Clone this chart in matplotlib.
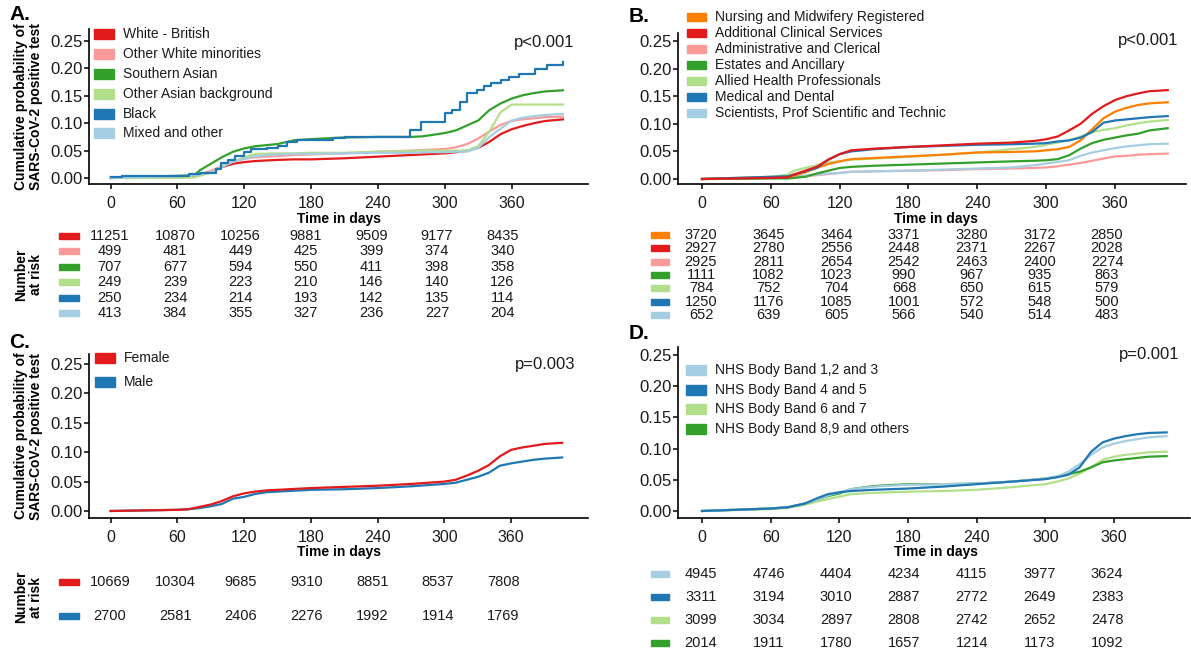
import matplotlib
matplotlib.use('Agg')
import matplotlib.pyplot as plt
from matplotlib.patches import Rectangle

plt.rcParams['font.family'] = ['Liberation Sans', 'DejaVu Sans']

# ---- colours (ColorBrewer "Paired") ----
LBLUE, BLUE, LGREEN, GREEN, PINK, RED, ORANGE = (
    '#A6CEE3', '#1F78B4', '#B2DF8A', '#33A02C', '#FB9A99', '#E31A1C', '#FF7F00')

x_ticks = [0, 60, 120, 180, 240, 300, 360]
y_ticks = [0.00, 0.05, 0.10, 0.15, 0.20, 0.25]
risk_times = [0, 60, 120, 180, 240, 300, 360]

# ---- A. ethnicity ----
A_labels = ['White - British', 'Other White minorities', 'Southern Asian',
            'Other Asian background', 'Black', 'Mixed and other']
A_colors = [RED, PINK, GREEN, LGREEN, BLUE, LBLUE]
A_t = [0, 60, 75, 80, 90, 100, 110, 120, 130, 150, 165, 180, 210, 240, 270, 280,
       300, 310, 320, 330, 340, 350, 360, 370, 380, 390, 406]
A_white_british = [0.000, 0.002, 0.003, 0.006, 0.012, 0.020, 0.026, 0.029, 0.031, 0.033, 0.034, 0.034, 0.036, 0.039,
                   0.042, 0.043, 0.045, 0.047, 0.050, 0.055, 0.066, 0.080, 0.089, 0.095, 0.100, 0.104, 0.107]
A_other_white = [0.000, 0.002, 0.003, 0.006, 0.013, 0.022, 0.030, 0.035, 0.038, 0.040, 0.042, 0.043, 0.045, 0.048,
                 0.050, 0.051, 0.053, 0.056, 0.062, 0.072, 0.085, 0.097, 0.104, 0.107, 0.109, 0.111, 0.112]
A_south_asian = [0.000, 0.004, 0.005, 0.014, 0.026, 0.038, 0.048, 0.054, 0.058, 0.062, 0.069, 0.071, 0.074, 0.075,
                 0.075, 0.076, 0.082, 0.087, 0.096, 0.105, 0.124, 0.136, 0.145, 0.151, 0.155, 0.158, 0.160]
A_other_asian = [0.000, 0.000, 0.001, 0.004, 0.010, 0.022, 0.030, 0.038, 0.044, 0.045, 0.045, 0.046, 0.046, 0.048,
                 0.049, 0.050, 0.050, 0.050, 0.050, 0.058, 0.085, 0.120, 0.134, 0.134, 0.134, 0.134, 0.134]
A_mixed = [0.000, 0.003, 0.005, 0.007, 0.010, 0.020, 0.030, 0.035, 0.040, 0.043, 0.044, 0.044, 0.045, 0.046,
           0.046, 0.047, 0.047, 0.048, 0.048, 0.055, 0.075, 0.090, 0.105, 0.110, 0.113, 0.115, 0.117]
A_black_t = [0, 10, 70, 80, 95, 99, 105, 112, 120, 126, 140, 150, 158, 167, 200, 210, 269, 279, 300, 306, 314,
             320, 329, 335, 341, 350, 358, 367, 381, 392, 406]
A_black = [0.002, 0.003, 0.007, 0.010, 0.017, 0.027, 0.033, 0.040, 0.048, 0.053, 0.055, 0.058, 0.065, 0.070, 0.073,
           0.075, 0.088, 0.103, 0.118, 0.124, 0.139, 0.155, 0.161, 0.167, 0.173, 0.179, 0.185, 0.190, 0.199, 0.207,
           0.212]
A_risk = [[11251, 10870, 10256, 9881, 9509, 9177, 8435],
          [499, 481, 449, 425, 399, 374, 340],
          [707, 677, 594, 550, 411, 398, 358],
          [249, 239, 223, 210, 146, 140, 126],
          [250, 234, 214, 193, 142, 135, 114],
          [413, 384, 355, 327, 236, 227, 204]]

# ---- B. staff group ----
B_labels = ['Nursing and Midwifery Registered', 'Additional Clinical Services', 'Administrative and Clerical',
            'Estates and Ancillary', 'Allied Health Professionals', 'Medical and Dental',
            'Scientists, Prof Scientific and Technic']
B_colors = [ORANGE, RED, PINK, GREEN, LGREEN, BLUE, LBLUE]
B_t = [0, 60, 75, 80, 90, 100, 110, 120, 130, 150, 180, 210, 240, 270, 290, 300, 310, 320, 330, 340,
       350, 360, 370, 380, 390, 406]
B_nursing = [0.000, 0.003, 0.004, 0.006, 0.012, 0.020, 0.027, 0.032, 0.036, 0.038, 0.041, 0.044, 0.048, 0.049, 0.050,
             0.052, 0.054, 0.058, 0.070, 0.090, 0.110, 0.122, 0.129, 0.134, 0.137, 0.139]
B_additional = [0.000, 0.002, 0.003, 0.008, 0.015, 0.022, 0.035, 0.045, 0.052, 0.055, 0.058, 0.061, 0.064, 0.066,
                0.069, 0.072, 0.077, 0.088, 0.100, 0.118, 0.132, 0.143, 0.150, 0.155, 0.159, 0.161]
B_admin = [0.000, 0.002, 0.003, 0.004, 0.005, 0.007, 0.009, 0.011, 0.013, 0.014, 0.015, 0.016, 0.018, 0.019, 0.020,
           0.021, 0.023, 0.026, 0.029, 0.033, 0.037, 0.041, 0.042, 0.044, 0.045, 0.046]
B_estates = [0.000, 0.001, 0.001, 0.002, 0.004, 0.010, 0.015, 0.020, 0.022, 0.024, 0.026, 0.028, 0.030, 0.032, 0.033,
             0.034, 0.036, 0.043, 0.055, 0.065, 0.071, 0.075, 0.079, 0.082, 0.088, 0.092]
B_allied = [0.000, 0.004, 0.008, 0.015, 0.020, 0.025, 0.030, 0.032, 0.035, 0.037, 0.040, 0.044, 0.048, 0.054, 0.058,
            0.062, 0.066, 0.070, 0.077, 0.085, 0.089, 0.092, 0.097, 0.101, 0.104, 0.107]
B_medical = [0.000, 0.004, 0.005, 0.008, 0.014, 0.020, 0.035, 0.045, 0.050, 0.054, 0.058, 0.060, 0.062, 0.063, 0.064,
             0.065, 0.068, 0.070, 0.075, 0.085, 0.102, 0.106, 0.108, 0.110, 0.112, 0.114]
B_scientists = [0.000, 0.002, 0.003, 0.004, 0.006, 0.008, 0.010, 0.011, 0.013, 0.014, 0.015, 0.017, 0.019, 0.021,
                0.025, 0.028, 0.031, 0.034, 0.042, 0.048, 0.052, 0.056, 0.059, 0.061, 0.063, 0.064]
B_risk = [[3720, 3645, 3464, 3371, 3280, 3172, 2850],
          [2927, 2780, 2556, 2448, 2371, 2267, 2028],
          [2925, 2811, 2654, 2542, 2463, 2400, 2274],
          [1111, 1082, 1023, 990, 967, 935, 863],
          [784, 752, 704, 668, 650, 615, 579],
          [1250, 1176, 1085, 1001, 572, 548, 500],
          [652, 639, 605, 566, 540, 514, 483]]

# ---- C. sex ----
C_labels = ['Female', 'Male']
C_colors = [RED, BLUE]
C_t = [0, 60, 70, 80, 90, 100, 110, 120, 130, 140, 160, 180, 210, 240, 270, 300, 310, 320, 330, 340,
       350, 360, 370, 380, 390, 406]
C_female = [0.000, 0.002, 0.003, 0.007, 0.011, 0.017, 0.025, 0.030, 0.033, 0.035, 0.037, 0.039, 0.041, 0.043, 0.046,
            0.050, 0.053, 0.060, 0.068, 0.078, 0.093, 0.104, 0.108, 0.111, 0.114, 0.116]
C_male = [0.000, 0.002, 0.003, 0.005, 0.008, 0.012, 0.021, 0.024, 0.029, 0.032, 0.034, 0.036, 0.037, 0.039, 0.042,
          0.046, 0.048, 0.053, 0.058, 0.065, 0.077, 0.081, 0.084, 0.087, 0.089, 0.091]
C_risk = [[10669, 10304, 9685, 9310, 8851, 8537, 7808],
          [2700, 2581, 2406, 2276, 1992, 1914, 1769]]

# ---- D. pay band ----
D_labels = ['NHS Body Band 1,2 and 3', 'NHS Body Band 4 and 5', 'NHS Body Band 6 and 7',
            'NHS Body Band 8,9 and others']
D_colors = [LBLUE, BLUE, LGREEN, GREEN]
D_t = [0, 60, 75, 90, 100, 110, 120, 130, 150, 180, 210, 240, 270, 300, 310, 320, 330, 340, 350, 360,
       370, 380, 390, 406]
D_band123 = [0.000, 0.004, 0.006, 0.012, 0.018, 0.025, 0.030, 0.035, 0.039, 0.042, 0.043, 0.044, 0.047, 0.052, 0.055,
             0.063, 0.075, 0.090, 0.102, 0.108, 0.112, 0.115, 0.118, 0.120]
D_band45 = [0.000, 0.004, 0.006, 0.012, 0.020, 0.027, 0.030, 0.032, 0.034, 0.036, 0.039, 0.043, 0.047, 0.051, 0.054,
            0.058, 0.070, 0.095, 0.110, 0.116, 0.120, 0.123, 0.125, 0.126]
D_band67 = [0.000, 0.003, 0.005, 0.010, 0.015, 0.019, 0.023, 0.027, 0.029, 0.031, 0.032, 0.034, 0.038, 0.043, 0.047,
            0.052, 0.060, 0.070, 0.082, 0.087, 0.090, 0.092, 0.094, 0.095]
D_band89 = [0.000, 0.004, 0.006, 0.012, 0.018, 0.024, 0.028, 0.035, 0.040, 0.043, 0.043, 0.044, 0.047, 0.052, 0.055,
            0.059, 0.063, 0.070, 0.078, 0.081, 0.083, 0.085, 0.087, 0.088]
D_risk = [[4945, 4746, 4404, 4234, 4115, 3977, 3624],
          [3311, 3194, 3010, 2887, 2772, 2649, 2383],
          [3099, 3034, 2897, 2808, 2742, 2652, 2478],
          [2014, 1911, 1780, 1657, 1214, 1173, 1092]]

W, H = 1191, 655
fig = plt.figure(figsize=(W / 100, H / 100), dpi=100)
TXT = '#1a1a1a'


def fx(x):
    return x / W


def fy(y):
    return 1 - y / H


def km_axes(box, xpix, ypix):
    # box = left, top, right, bottom in pixels; xpix = pixel of day 0 / day 360; ypix = pixel of 0 / 0.25
    l, t, r, b = box
    ax = fig.add_axes([fx(l), fy(b), (r - l) / W, (b - t) / H])
    s = (xpix[1] - xpix[0]) / 360
    ax.set_xlim((l - xpix[0]) / s, (r - xpix[0]) / s)
    k = (ypix[0] - ypix[1]) / 0.25
    ax.set_ylim((ypix[0] - b) / k, (ypix[0] - t) / k)
    ax.set_xticks(x_ticks)
    ax.set_yticks(y_ticks)
    ax.set_yticklabels([f'{v:.2f}' for v in y_ticks])
    for side in ['top', 'right']:
        ax.spines[side].set_visible(False)
    for side in ['left', 'bottom']:
        ax.spines[side].set_linewidth(1.2)
    ax.tick_params(axis='both', length=3.5, width=1.1, labelcolor=TXT)
    ax.tick_params(axis='y', pad=1, labelsize=12)
    ax.tick_params(axis='x', pad=5, labelsize=11.5)
    ax.patch.set_alpha(0)
    return ax


def risk_table(xpix, row0, step, counts, colors, patch_x, patch_h=6):
    n = len(counts)
    t = row0 - step / 2
    b = row0 + step * (n - 0.5)
    l, r = xpix[0] - 30, xpix[1] + 30
    ax = fig.add_axes([fx(l), fy(b), (r - l) / W, (b - t) / H])
    s = (xpix[1] - xpix[0]) / 360
    ax.set_xlim((l - xpix[0]) / s, (r - xpix[0]) / s)
    ax.set_ylim(n - 0.5, -0.5)
    ax.axis('off')
    h = patch_h / step
    for i, (row, c) in enumerate(zip(counts, colors)):
        for tt, v in zip(risk_times, row):
            ax.text(tt, i, str(v), ha='center', va='center', fontsize=10.5, color=TXT)
        ax.add_patch(Rectangle(((patch_x[0] - xpix[0]) / s, i - h / 2), (patch_x[1] - patch_x[0]) / s, h,
                               color=c, clip_on=False))
    return ax


def legend(labels, colors, patch_x, text_x, rows, ph, fs=10):
    for lab, c, y in zip(labels, colors, rows):
        fig.add_artist(Rectangle((fx(patch_x[0]), fy(y + ph / 2)), (patch_x[1] - patch_x[0]) / W, ph / H,
                                 transform=fig.transFigure, color=c))
        fig.text(fx(text_x), fy(y), lab, va='center', ha='left', fontsize=fs, color=TXT)


def titles(cx, cy, letter, lx, ly, pval, px, py):
    fig.text(fx(cx), fy(cy), 'Time in days', ha='center', va='center', fontsize=10, fontweight='bold')
    fig.text(fx(lx), fy(ly), letter, ha='left', va='center', fontsize=15, fontweight='bold')
    fig.text(fx(px), fy(py), pval, ha='right', va='center', fontsize=12, color=TXT)


LW = 1.6

# Panel A
axA = km_axes((88.8, 29, 587.5, 184), (110.6, 511.7), (178, 41))
for vals, c in [(A_white_british, RED), (A_other_white, PINK), (A_south_asian, GREEN),
                (A_other_asian, LGREEN), (A_mixed, LBLUE)]:
    axA.plot(A_t, vals, color=c, lw=LW)
axA.plot(A_black_t, A_black, color=BLUE, lw=LW, drawstyle='steps-post')
legend(A_labels, A_colors, (94, 114), 123, [34, 54, 74, 94, 114, 133], 10)
titles(339, 219, 'A.', 9, 15, 'p<0.001', 574, 42)
risk_table((109.5, 502.5), 236, 15.4, A_risk, A_colors, (59, 78.5))

# Panel B
axB = km_axes((678, 33, 1186, 184), (702, 1115), (179, 41))
for vals, c in [(B_admin, PINK), (B_scientists, LBLUE), (B_estates, GREEN), (B_allied, LGREEN),
                (B_nursing, ORANGE), (B_medical, BLUE), (B_additional, RED)]:
    axB.plot(B_t, vals, color=c, lw=LW)
legend(B_labels, B_colors, (687, 706), 715, [17, 33, 49, 65, 81, 97, 113], 8)
titles(936, 219, 'B.', 629, 17, 'p<0.001', 1178, 41)
risk_table((701, 1107), 235, 13.33, B_risk, B_colors, (651, 669))

# Panel C
axC = km_axes((88.8, 354, 588, 518), (110.6, 511), (511, 364))
axC.plot(C_t, C_male, color=BLUE, lw=LW)
axC.plot(C_t, C_female, color=RED, lw=LW)
legend(C_labels, C_colors, (95, 115), 124, [358, 382], 10)
titles(339, 552, 'C.', 9, 343, 'p=0.003', 575, 365)
risk_table((109.8, 503.3), 582, 34, C_risk, C_colors, (59, 78.5))

# Panel D
axD = km_axes((678, 347, 1190, 518), (702, 1114), (511, 355))
for vals, c in [(D_band67, LGREEN), (D_band89, GREEN), (D_band123, LBLUE), (D_band45, BLUE)]:
    axD.plot(D_t, vals, color=c, lw=LW)
legend(D_labels, D_colors, (686, 706), 715, [370, 390, 409, 429], 10)
titles(936, 552, 'D.', 629, 333, 'p=0.001', 1179, 355)
risk_table((701, 1107), 574, 23, D_risk, D_colors, (651, 669))

# y-axis titles
for cy in [106.5, 436]:
    fig.text(fx(28.5), fy(cy), 'Cumulative probability of\nSARS-CoV-2 positive test', rotation=90,
             ha='center', va='center', fontsize=10, fontweight='bold', linespacing=1.05)
for cy in [275, 597]:
    fig.text(fx(28.5), fy(cy), 'Number\nat risk', rotation=90, ha='center', va='center',
             fontsize=10, fontweight='bold', linespacing=1.05)

fig.savefig('out.png', dpi=100)
